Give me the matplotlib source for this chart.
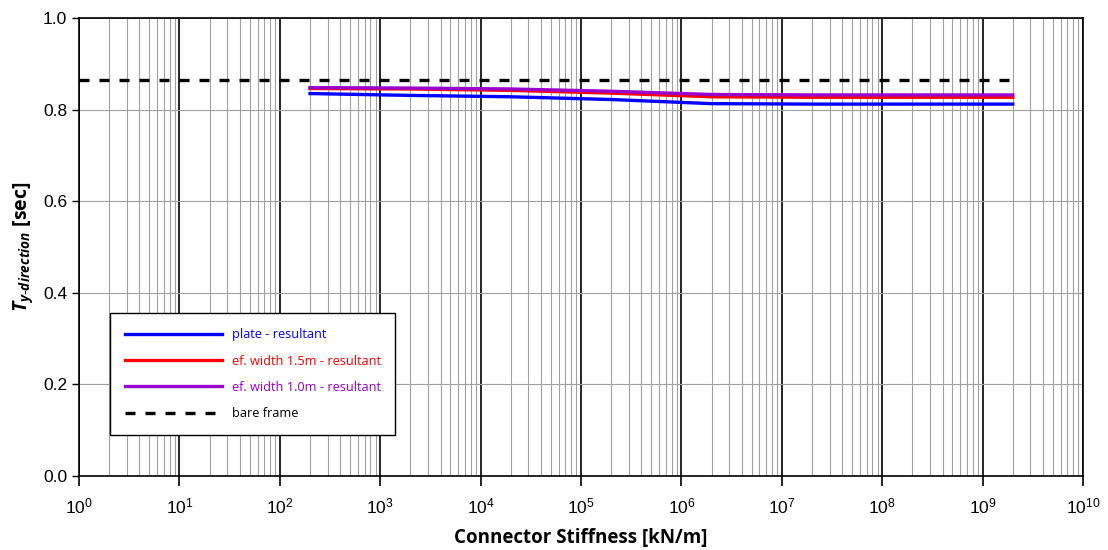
import matplotlib
matplotlib.use("Agg")
import matplotlib.pyplot as plt
from matplotlib.ticker import LogLocator, NullFormatter

plt.rcParams["mathtext.fontset"] = "custom"
plt.rcParams["mathtext.rm"] = "Liberation Sans"
plt.rcParams["mathtext.it"] = "Open Sans:bold:italic"
plt.rcParams["mathtext.bf"] = "Open Sans:bold"

# connector stiffness [kN/m]
stiffness = [2e2, 2e3, 2e4, 2e5, 2e6, 2e7, 2e8, 2e9]
plate = [0.835, 0.831, 0.828, 0.822, 0.813, 0.812, 0.812, 0.812]
width_15 = [0.846, 0.845, 0.842, 0.836, 0.828, 0.827, 0.827, 0.827]
width_10 = [0.848, 0.847, 0.845, 0.840, 0.833, 0.832, 0.832, 0.832]
bare_x = [1, 2e9]
bare_frame = [0.865, 0.865]
decades = [10.0 ** k for k in range(0, 11)]

fig = plt.figure(figsize=(11.08, 5.5), dpi=100)
ax = fig.add_axes([0.0713, 0.1345, 0.9061, 0.8328])

ax.set_xscale("log")
ax.set_xlim(1, 1e10)
ax.set_ylim(0, 1.0)

ax.plot(stiffness, plate, color="#0000ff", lw=2.4, label="plate - resultant", zorder=3)
ax.plot(stiffness, width_15, color="#ff0000", lw=2.4, label="ef. width 1.5m - resultant", zorder=3)
ax.plot(stiffness, width_10, color="#9900cc", lw=2.4, label="ef. width 1.0m - resultant", zorder=4)
ax.plot(bare_x, bare_frame, color="black", lw=2.4, ls=(0, (3, 3)), label="bare frame", zorder=4)

ax.set_xticks(decades)
ax.xaxis.set_minor_locator(LogLocator(base=10, subs=range(2, 10), numticks=200))
ax.xaxis.set_minor_formatter(NullFormatter())
ax.set_xlim(1, 1e10)
ax.set_yticks([0, 0.2, 0.4, 0.6, 0.8, 1.0])
ax.set_yticklabels(["0.0", "0.2", "0.4", "0.6", "0.8", "1.0"])

ax.grid(which="major", axis="x", color="black", lw=1.2)
ax.grid(which="minor", axis="x", color="#a0a0a0", lw=0.8)
ax.grid(which="major", axis="y", color="#a0a0a0", lw=0.8)
ax.set_axisbelow(True)

ax.tick_params(axis="x", which="major", length=7, width=1.2, direction="out", pad=8)
ax.tick_params(axis="x", which="minor", length=0)
ax.tick_params(axis="y", length=5, width=1.0, direction="out")
for lbl in ax.get_xticklabels() + ax.get_yticklabels():
    lbl.set_fontfamily("Liberation Sans")
    lbl.set_fontsize(12.5)
for s in ax.spines.values():
    s.set_linewidth(1.2)

ax.set_xlabel("Connector Stiffness [kN/m]", fontsize=13.5, fontweight="bold",
              fontfamily="Open Sans", labelpad=8)
ax.set_ylabel(r"$T_{y\text{-}direction}$ [sec]", fontsize=14, fontweight="bold",
              fontfamily="Open Sans", labelpad=6)

leg = ax.legend(loc="lower left", bbox_to_anchor=(0.031, 0.0895),
                handlelength=7.6, handletextpad=0.75, borderpad=1.15,
                labelspacing=1.05, borderaxespad=0,
                fancybox=False, framealpha=1, edgecolor="black",
                prop={"family": "Open Sans", "size": 9.2})
leg.get_frame().set_linewidth(1.0)
for txt, line in zip(leg.get_texts(), leg.get_lines()):
    txt.set_color(line.get_color())

fig.savefig("out.png", dpi=100)
